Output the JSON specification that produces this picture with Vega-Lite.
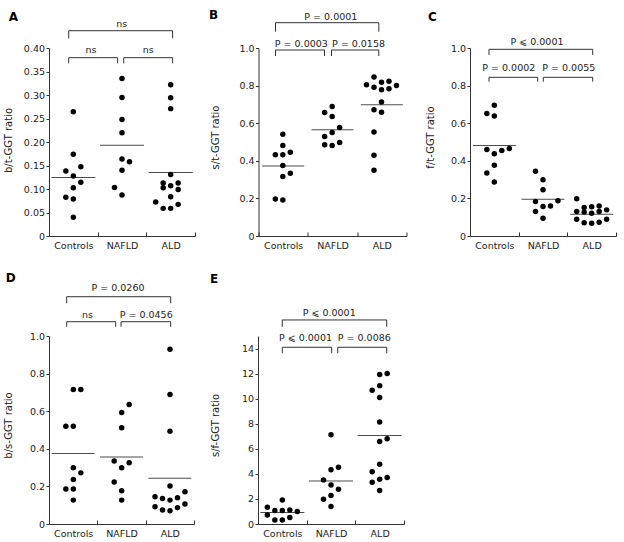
{
  "$schema": "https://vega.github.io/schema/vega-lite/v6.json",
  "padding": {"left": 3, "top": 9, "right": 0, "bottom": 0},
  "background": "white",
  "config": {
    "font": "DejaVu Sans",
    "view": {"stroke": null},
    "axis": {"grid": false, "domainColor": "#333", "tickColor": "#333", "labelColor": "#222", "titleColor": "#222", "labelFontSize": 9.5, "titleFontSize": 10, "titleFontWeight": "normal", "labelFont": "DejaVu Sans", "titleFont": "DejaVu Sans", "labelOverlap": false},
    "axisX": {"tickSize": -4, "labelPadding": 8},
    "axisY": {"tickSize": 3, "labelPadding": 1.5, "tickCount": 20},
    "text": {"font": "DejaVu Sans"}
  },
  "datasets": {
    "points": [
      {"panel": "A", "group": "Controls", "slot": 0, "value": 0.2645},
      {"panel": "A", "group": "Controls", "slot": 0, "value": 0.1738},
      {"panel": "A", "group": "Controls", "slot": -1, "value": 0.1383},
      {"panel": "A", "group": "Controls", "slot": 1, "value": 0.1474},
      {"panel": "A", "group": "Controls", "slot": 0, "value": 0.1277},
      {"panel": "A", "group": "Controls", "slot": 1, "value": 0.1143},
      {"panel": "A", "group": "Controls", "slot": 0, "value": 0.1028},
      {"panel": "A", "group": "Controls", "slot": -1, "value": 0.0823},
      {"panel": "A", "group": "Controls", "slot": 0, "value": 0.0787},
      {"panel": "A", "group": "Controls", "slot": 0, "value": 0.0398},
      {"panel": "A", "group": "NAFLD", "slot": 0, "value": 0.335},
      {"panel": "A", "group": "NAFLD", "slot": 0, "value": 0.2946},
      {"panel": "A", "group": "NAFLD", "slot": 0, "value": 0.248},
      {"panel": "A", "group": "NAFLD", "slot": 0, "value": 0.2195},
      {"panel": "A", "group": "NAFLD", "slot": 0, "value": 0.164},
      {"panel": "A", "group": "NAFLD", "slot": 1, "value": 0.158},
      {"panel": "A", "group": "NAFLD", "slot": 0, "value": 0.14},
      {"panel": "A", "group": "NAFLD", "slot": -1, "value": 0.103},
      {"panel": "A", "group": "NAFLD", "slot": 0, "value": 0.087},
      {"panel": "A", "group": "ALD", "slot": 0, "value": 0.322},
      {"panel": "A", "group": "ALD", "slot": 0, "value": 0.294},
      {"panel": "A", "group": "ALD", "slot": 0, "value": 0.271},
      {"panel": "A", "group": "ALD", "slot": 0, "value": 0.131},
      {"panel": "A", "group": "ALD", "slot": -1, "value": 0.113},
      {"panel": "A", "group": "ALD", "slot": 1, "value": 0.113},
      {"panel": "A", "group": "ALD", "slot": -1, "value": 0.1026},
      {"panel": "A", "group": "ALD", "slot": 0, "value": 0.107},
      {"panel": "A", "group": "ALD", "slot": 1, "value": 0.099},
      {"panel": "A", "group": "ALD", "slot": 0, "value": 0.0835},
      {"panel": "A", "group": "ALD", "slot": -2, "value": 0.0722},
      {"panel": "A", "group": "ALD", "slot": 1, "value": 0.0673},
      {"panel": "A", "group": "ALD", "slot": -1, "value": 0.0588},
      {"panel": "A", "group": "ALD", "slot": 0, "value": 0.0588},

      {"panel": "B", "group": "Controls", "slot": 0, "value": 0.5417},
      {"panel": "B", "group": "Controls", "slot": 0, "value": 0.481},
      {"panel": "B", "group": "Controls", "slot": -1, "value": 0.4316},
      {"panel": "B", "group": "Controls", "slot": 0, "value": 0.4316},
      {"panel": "B", "group": "Controls", "slot": 1, "value": 0.446},
      {"panel": "B", "group": "Controls", "slot": 0, "value": 0.3747},
      {"panel": "B", "group": "Controls", "slot": 1, "value": 0.334},
      {"panel": "B", "group": "Controls", "slot": 0, "value": 0.316},
      {"panel": "B", "group": "Controls", "slot": -1, "value": 0.197},
      {"panel": "B", "group": "Controls", "slot": 0, "value": 0.192},
      {"panel": "B", "group": "NAFLD", "slot": 0, "value": 0.689},
      {"panel": "B", "group": "NAFLD", "slot": -1, "value": 0.657},
      {"panel": "B", "group": "NAFLD", "slot": 0, "value": 0.636},
      {"panel": "B", "group": "NAFLD", "slot": 1, "value": 0.577},
      {"panel": "B", "group": "NAFLD", "slot": -1, "value": 0.529},
      {"panel": "B", "group": "NAFLD", "slot": 0, "value": 0.55},
      {"panel": "B", "group": "NAFLD", "slot": -1, "value": 0.485},
      {"panel": "B", "group": "NAFLD", "slot": 0, "value": 0.481},
      {"panel": "B", "group": "NAFLD", "slot": 1, "value": 0.497},
      {"panel": "B", "group": "ALD", "slot": -1, "value": 0.846},
      {"panel": "B", "group": "ALD", "slot": -2, "value": 0.805},
      {"panel": "B", "group": "ALD", "slot": -1, "value": 0.791},
      {"panel": "B", "group": "ALD", "slot": 0, "value": 0.818},
      {"panel": "B", "group": "ALD", "slot": 1, "value": 0.823},
      {"panel": "B", "group": "ALD", "slot": 2, "value": 0.8},
      {"panel": "B", "group": "ALD", "slot": 0, "value": 0.778},
      {"panel": "B", "group": "ALD", "slot": 1, "value": 0.783},
      {"panel": "B", "group": "ALD", "slot": 0, "value": 0.713},
      {"panel": "B", "group": "ALD", "slot": -1, "value": 0.672},
      {"panel": "B", "group": "ALD", "slot": 0, "value": 0.658},
      {"panel": "B", "group": "ALD", "slot": -1, "value": 0.553},
      {"panel": "B", "group": "ALD", "slot": -1, "value": 0.43},
      {"panel": "B", "group": "ALD", "slot": -1, "value": 0.35},

      {"panel": "C", "group": "Controls", "slot": 0, "value": 0.695},
      {"panel": "C", "group": "Controls", "slot": -1, "value": 0.652},
      {"panel": "C", "group": "Controls", "slot": 0, "value": 0.638},
      {"panel": "C", "group": "Controls", "slot": -1, "value": 0.46},
      {"panel": "C", "group": "Controls", "slot": 1, "value": 0.4545},
      {"panel": "C", "group": "Controls", "slot": 2, "value": 0.465},
      {"panel": "C", "group": "Controls", "slot": 0, "value": 0.437},
      {"panel": "C", "group": "Controls", "slot": 0, "value": 0.376},
      {"panel": "C", "group": "Controls", "slot": -1, "value": 0.335},
      {"panel": "C", "group": "Controls", "slot": 0, "value": 0.287},
      {"panel": "C", "group": "NAFLD", "slot": -1, "value": 0.344},
      {"panel": "C", "group": "NAFLD", "slot": 0, "value": 0.2995},
      {"panel": "C", "group": "NAFLD", "slot": 0, "value": 0.246},
      {"panel": "C", "group": "NAFLD", "slot": -1, "value": 0.183},
      {"panel": "C", "group": "NAFLD", "slot": 2, "value": 0.187},
      {"panel": "C", "group": "NAFLD", "slot": -1, "value": 0.13},
      {"panel": "C", "group": "NAFLD", "slot": 0, "value": 0.157},
      {"panel": "C", "group": "NAFLD", "slot": 1, "value": 0.16},
      {"panel": "C", "group": "NAFLD", "slot": 0, "value": 0.0945},
      {"panel": "C", "group": "ALD", "slot": -2, "value": 0.198},
      {"panel": "C", "group": "ALD", "slot": -1, "value": 0.151},
      {"panel": "C", "group": "ALD", "slot": 0, "value": 0.155},
      {"panel": "C", "group": "ALD", "slot": 1, "value": 0.16},
      {"panel": "C", "group": "ALD", "slot": -2, "value": 0.13},
      {"panel": "C", "group": "ALD", "slot": -1, "value": 0.127},
      {"panel": "C", "group": "ALD", "slot": 0, "value": 0.121},
      {"panel": "C", "group": "ALD", "slot": 1, "value": 0.13},
      {"panel": "C", "group": "ALD", "slot": 2, "value": 0.139},
      {"panel": "C", "group": "ALD", "slot": -2, "value": 0.089},
      {"panel": "C", "group": "ALD", "slot": -1, "value": 0.071},
      {"panel": "C", "group": "ALD", "slot": 0, "value": 0.068},
      {"panel": "C", "group": "ALD", "slot": 1, "value": 0.073},
      {"panel": "C", "group": "ALD", "slot": 2, "value": 0.089},

      {"panel": "D", "group": "Controls", "slot": 0, "value": 0.715},
      {"panel": "D", "group": "Controls", "slot": 1, "value": 0.715},
      {"panel": "D", "group": "Controls", "slot": -1, "value": 0.52},
      {"panel": "D", "group": "Controls", "slot": 0, "value": 0.52},
      {"panel": "D", "group": "Controls", "slot": 0, "value": 0.299},
      {"panel": "D", "group": "Controls", "slot": 1, "value": 0.272},
      {"panel": "D", "group": "Controls", "slot": 0, "value": 0.237},
      {"panel": "D", "group": "Controls", "slot": -1, "value": 0.186},
      {"panel": "D", "group": "Controls", "slot": 0, "value": 0.186},
      {"panel": "D", "group": "Controls", "slot": 0, "value": 0.127},
      {"panel": "D", "group": "NAFLD", "slot": 1, "value": 0.636},
      {"panel": "D", "group": "NAFLD", "slot": 0, "value": 0.593},
      {"panel": "D", "group": "NAFLD", "slot": 0, "value": 0.512},
      {"panel": "D", "group": "NAFLD", "slot": -1, "value": 0.3346},
      {"panel": "D", "group": "NAFLD", "slot": 1, "value": 0.326},
      {"panel": "D", "group": "NAFLD", "slot": 0, "value": 0.299},
      {"panel": "D", "group": "NAFLD", "slot": -1, "value": 0.223},
      {"panel": "D", "group": "NAFLD", "slot": 0, "value": 0.177},
      {"panel": "D", "group": "NAFLD", "slot": 0, "value": 0.127},
      {"panel": "D", "group": "ALD", "slot": 0, "value": 0.929},
      {"panel": "D", "group": "ALD", "slot": 0, "value": 0.689},
      {"panel": "D", "group": "ALD", "slot": 0, "value": 0.494},
      {"panel": "D", "group": "ALD", "slot": 0, "value": 0.202},
      {"panel": "D", "group": "ALD", "slot": -2, "value": 0.145},
      {"panel": "D", "group": "ALD", "slot": -1, "value": 0.136},
      {"panel": "D", "group": "ALD", "slot": 0, "value": 0.127},
      {"panel": "D", "group": "ALD", "slot": 1, "value": 0.14},
      {"panel": "D", "group": "ALD", "slot": 2, "value": 0.172},
      {"panel": "D", "group": "ALD", "slot": -2, "value": 0.092},
      {"panel": "D", "group": "ALD", "slot": -1, "value": 0.0743},
      {"panel": "D", "group": "ALD", "slot": 0, "value": 0.071},
      {"panel": "D", "group": "ALD", "slot": 1, "value": 0.0867},
      {"panel": "D", "group": "ALD", "slot": 2, "value": 0.106},

      {"panel": "E", "group": "Controls", "slot": 0, "value": 1.92},
      {"panel": "E", "group": "Controls", "slot": -2, "value": 1.33},
      {"panel": "E", "group": "Controls", "slot": -1, "value": 1.07},
      {"panel": "E", "group": "Controls", "slot": 0, "value": 1.07},
      {"panel": "E", "group": "Controls", "slot": 1, "value": 1.12},
      {"panel": "E", "group": "Controls", "slot": 2, "value": 0.99},
      {"panel": "E", "group": "Controls", "slot": -2, "value": 0.72},
      {"panel": "E", "group": "Controls", "slot": 1, "value": 0.51},
      {"panel": "E", "group": "Controls", "slot": -1, "value": 0.32},
      {"panel": "E", "group": "Controls", "slot": 0, "value": 0.32},
      {"panel": "E", "group": "NAFLD", "slot": 0, "value": 7.12},
      {"panel": "E", "group": "NAFLD", "slot": 0, "value": 4.32},
      {"panel": "E", "group": "NAFLD", "slot": 1, "value": 4.53},
      {"panel": "E", "group": "NAFLD", "slot": -1, "value": 3.52},
      {"panel": "E", "group": "NAFLD", "slot": 0, "value": 3.12},
      {"panel": "E", "group": "NAFLD", "slot": 1, "value": 2.77},
      {"panel": "E", "group": "NAFLD", "slot": -1, "value": 1.97},
      {"panel": "E", "group": "NAFLD", "slot": 0, "value": 2.27},
      {"panel": "E", "group": "NAFLD", "slot": 0, "value": 1.39},
      {"panel": "E", "group": "ALD", "slot": 0, "value": 11.92},
      {"panel": "E", "group": "ALD", "slot": 1, "value": 12.0},
      {"panel": "E", "group": "ALD", "slot": -1, "value": 10.67},
      {"panel": "E", "group": "ALD", "slot": 0, "value": 11.04},
      {"panel": "E", "group": "ALD", "slot": 0, "value": 10.1},
      {"panel": "E", "group": "ALD", "slot": 0, "value": 8.13},
      {"panel": "E", "group": "ALD", "slot": 0, "value": 6.59},
      {"panel": "E", "group": "ALD", "slot": 1, "value": 6.8},
      {"panel": "E", "group": "ALD", "slot": 0, "value": 4.77},
      {"panel": "E", "group": "ALD", "slot": -1, "value": 4.16},
      {"panel": "E", "group": "ALD", "slot": 0, "value": 3.57},
      {"panel": "E", "group": "ALD", "slot": 1, "value": 3.71},
      {"panel": "E", "group": "ALD", "slot": -1, "value": 3.33},
      {"panel": "E", "group": "ALD", "slot": 0, "value": 2.67}
    ],
    "medians": [
      {"panel": "A", "group": "Controls", "value": 0.1247},
      {"panel": "A", "group": "NAFLD", "value": 0.1933},
      {"panel": "A", "group": "ALD", "value": 0.1353},
      {"panel": "B", "group": "Controls", "value": 0.373},
      {"panel": "B", "group": "NAFLD", "value": 0.565},
      {"panel": "B", "group": "ALD", "value": 0.698},
      {"panel": "C", "group": "Controls", "value": 0.481},
      {"panel": "C", "group": "NAFLD", "value": 0.196},
      {"panel": "C", "group": "ALD", "value": 0.116},
      {"panel": "D", "group": "Controls", "value": 0.375},
      {"panel": "D", "group": "NAFLD", "value": 0.357},
      {"panel": "D", "group": "ALD", "value": 0.243},
      {"panel": "E", "group": "Controls", "value": 0.91},
      {"panel": "E", "group": "NAFLD", "value": 3.44},
      {"panel": "E", "group": "ALD", "value": 7.07}
    ],
    "brackets": [
      {"panel": "A", "xa": 0.405, "xb": 2.54, "ytop": 0.4368, "ybot": 0.4206},
      {"panel": "A", "xa": 0.405, "xb": 1.41, "ytop": 0.3794, "ybot": 0.3674},
      {"panel": "A", "xa": 1.535, "xb": 2.54, "ytop": 0.3794, "ybot": 0.3674},
      {"panel": "B", "xa": 0.345, "xb": 2.439, "ytop": 1.1346, "ybot": 1.0867},
      {"panel": "B", "xa": 0.345, "xb": 1.338, "ytop": 0.9894, "ybot": 0.9574},
      {"panel": "B", "xa": 1.48, "xb": 2.439, "ytop": 0.9894, "ybot": 0.9574},
      {"panel": "C", "xa": 0.39, "xb": 2.521, "ytop": 0.993, "ybot": 0.963},
      {"panel": "C", "xa": 0.39, "xb": 1.391, "ytop": 0.844, "ybot": 0.8207},
      {"panel": "C", "xa": 1.506, "xb": 2.521, "ytop": 0.844, "ybot": 0.8207},
      {"panel": "D", "xa": 0.366, "xb": 2.518, "ytop": 1.209, "ybot": 1.174},
      {"panel": "D", "xa": 0.366, "xb": 1.38, "ytop": 1.076, "ybot": 1.049},
      {"panel": "D", "xa": 1.49, "xb": 2.518, "ytop": 1.076, "ybot": 1.049},
      {"panel": "E", "xa": 0.499, "xb": 2.645, "ytop": 16.28, "ybot": 15.74},
      {"panel": "E", "xa": 0.499, "xb": 1.514, "ytop": 14.1, "ybot": 13.62},
      {"panel": "E", "xa": 1.638, "xb": 2.645, "ytop": 14.1, "ybot": 13.62}
    ],
    "notes": [
      {"panel": "A", "kind": "p", "text": "ns", "x": 1.494, "y": 0.4453},
      {"panel": "A", "kind": "p", "text": "ns", "x": 0.863, "y": 0.3887},
      {"panel": "A", "kind": "p", "text": "ns", "x": 2.04, "y": 0.3887},
      {"panel": "A", "kind": "letter", "text": "A", "x": -0.734, "y": 0.458},
      {"panel": "B", "kind": "p", "text": "P = 0.0001", "x": 1.466, "y": 1.149},
      {"panel": "B", "kind": "p", "text": "P = 0.0003", "x": 0.868, "y": 1.007},
      {"panel": "B", "kind": "p", "text": "P = 0.0158", "x": 2.027, "y": 1.007},
      {"panel": "B", "kind": "letter", "text": "B", "x": -0.912, "y": 1.154},
      {"panel": "C", "kind": "p", "text": "P ⩽ 0.0001", "x": 1.377, "y": 1.016},
      {"panel": "C", "kind": "p", "text": "P = 0.0002", "x": 0.797, "y": 0.8777},
      {"panel": "C", "kind": "p", "text": "P = 0.0055", "x": 2.03, "y": 0.8777},
      {"panel": "C", "kind": "letter", "text": "C", "x": -0.771, "y": 1.145},
      {"panel": "D", "kind": "p", "text": "P = 0.0260", "x": 1.428, "y": 1.241},
      {"panel": "D", "kind": "p", "text": "ns", "x": 0.797, "y": 1.097},
      {"panel": "D", "kind": "p", "text": "P = 0.0456", "x": 2.011, "y": 1.097},
      {"panel": "D", "kind": "letter", "text": "D", "x": -0.79, "y": 1.289},
      {"panel": "E", "kind": "p", "text": "P ⩽ 0.0001", "x": 1.463, "y": 16.62},
      {"panel": "E", "kind": "p", "text": "P ⩽ 0.0001", "x": 0.976, "y": 14.63},
      {"panel": "E", "kind": "p", "text": "P = 0.0086", "x": 2.184, "y": 14.63},
      {"panel": "E", "kind": "letter", "text": "E", "x": -0.904, "y": 19.25}
    ]
  },
  "bounds": "flush",
  "spacing": 288,
  "vconcat": [
    {
      "bounds": "flush",
      "spacing": 63.5,
      "hconcat": [
        {
          "width": 146, "height": 188,
          "resolve": {"scale": {"x": "independent"}},
          "layer": [
            {"data": {"name": "points"}, "transform": [{"filter": "datum.panel == 'A'"}],
             "mark": {"type": "circle", "size": 30, "color": "black", "opacity": 1},
             "encoding": {
               "x": {"field": "group", "type": "nominal", "sort": ["Controls", "NAFLD", "ALD"], "scale": {"type": "band", "paddingInner": 0, "paddingOuter": 0}, "axis": {"title": null, "tickBand": "extent", "labelAngle": 0, "labelOverlap": false}},
               "xOffset": {"field": "slot", "type": "quantitative", "scale": {"domain": [-3.25, 3.25]}},
               "y": {"field": "value", "type": "quantitative", "title": "b/t-GGT ratio", "scale": {"domain": [0, 0.4], "nice": false}, "axis": {"values": [0, 0.05, 0.1, 0.15, 0.2, 0.25, 0.3, 0.35, 0.4], "tickCount": 20, "labelOverlap": false, "labelExpr": "datum.value == 0 ? '0' : format(datum.value, '.2f')", "titleX": -35.7, "titleY": 92}}
             }},
            {"data": {"name": "medians"}, "transform": [{"filter": "datum.panel == 'A'"}],
             "mark": {"type": "tick", "size": 44, "thickness": 1, "color": "black"},
             "encoding": {
               "x": {"field": "group", "type": "nominal", "sort": ["Controls", "NAFLD", "ALD"], "scale": {"type": "band", "paddingInner": 0, "paddingOuter": 0}, "axis": null},
               "y": {"field": "value", "type": "quantitative", "title": "b/t-GGT ratio", "scale": {"domain": [0, 0.4], "nice": false}}
             }},
            {"data": {"name": "brackets"}, "transform": [{"filter": "datum.panel == 'A'"}],
             "mark": {"type": "rule", "color": "#333", "strokeWidth": 1},
             "encoding": {
               "x": {"field": "xa", "type": "quantitative", "scale": {"domain": [0, 3]}, "axis": null},
               "x2": {"field": "xb"},
               "y": {"field": "ytop", "type": "quantitative", "title": "b/t-GGT ratio", "scale": {"domain": [0, 0.4], "nice": false}}
             }},
            {"data": {"name": "brackets"}, "transform": [{"filter": "datum.panel == 'A'"}],
             "mark": {"type": "rule", "color": "#333", "strokeWidth": 1},
             "encoding": {
               "x": {"field": "xa", "type": "quantitative", "scale": {"domain": [0, 3]}, "axis": null},
               "y": {"field": "ybot", "type": "quantitative", "title": "b/t-GGT ratio", "scale": {"domain": [0, 0.4], "nice": false}},
               "y2": {"field": "ytop"}
             }},
            {"data": {"name": "brackets"}, "transform": [{"filter": "datum.panel == 'A'"}],
             "mark": {"type": "rule", "color": "#333", "strokeWidth": 1},
             "encoding": {
               "x": {"field": "xb", "type": "quantitative", "scale": {"domain": [0, 3]}, "axis": null},
               "y": {"field": "ybot", "type": "quantitative", "title": "b/t-GGT ratio", "scale": {"domain": [0, 0.4], "nice": false}},
               "y2": {"field": "ytop"}
             }},
            {"data": {"name": "notes"}, "transform": [{"filter": "datum.panel == 'A' && datum.kind == 'p'"}],
             "mark": {"type": "text", "fontSize": 9.5, "baseline": "alphabetic", "align": "center", "color": "#222"},
             "encoding": {
               "x": {"field": "x", "type": "quantitative", "scale": {"domain": [0, 3]}, "axis": null},
               "y": {"field": "y", "type": "quantitative", "title": "b/t-GGT ratio", "scale": {"domain": [0, 0.4], "nice": false}},
               "text": {"field": "text"}
             }},
            {"data": {"name": "notes"}, "transform": [{"filter": "datum.panel == 'A' && datum.kind == 'letter'"}],
             "mark": {"type": "text", "fontSize": 12, "fontWeight": "bold", "baseline": "alphabetic", "align": "center", "color": "black"},
             "encoding": {
               "x": {"field": "x", "type": "quantitative", "scale": {"domain": [0, 3]}, "axis": null},
               "y": {"field": "y", "type": "quantitative", "title": "b/t-GGT ratio", "scale": {"domain": [0, 0.4], "nice": false}},
               "text": {"field": "text"}
             }}
          ]
        },
        {
          "width": 148, "height": 188,
          "resolve": {"scale": {"x": "independent"}},
          "layer": [
            {"data": {"name": "points"}, "transform": [{"filter": "datum.panel == 'B'"}],
             "mark": {"type": "circle", "size": 30, "color": "black", "opacity": 1},
             "encoding": {
               "x": {"field": "group", "type": "nominal", "sort": ["Controls", "NAFLD", "ALD"], "scale": {"type": "band", "paddingInner": 0, "paddingOuter": 0}, "axis": {"title": null, "tickBand": "extent", "labelAngle": 0, "labelOverlap": false}},
               "xOffset": {"field": "slot", "type": "quantitative", "scale": {"domain": [-3.25, 3.25]}},
               "y": {"field": "value", "type": "quantitative", "title": "s/t-GGT ratio", "scale": {"domain": [0, 1], "nice": false}, "axis": {"values": [0, 0.2, 0.4, 0.6, 0.8, 1.0], "tickCount": 20, "labelOverlap": false, "labelExpr": "datum.value == 0 ? '0' : format(datum.value, '.1f')", "titleX": -38.5, "titleY": 89}}
             }},
            {"data": {"name": "medians"}, "transform": [{"filter": "datum.panel == 'B'"}],
             "mark": {"type": "tick", "size": 42, "thickness": 1, "color": "black"},
             "encoding": {
               "x": {"field": "group", "type": "nominal", "sort": ["Controls", "NAFLD", "ALD"], "scale": {"type": "band", "paddingInner": 0, "paddingOuter": 0}, "axis": null},
               "y": {"field": "value", "type": "quantitative", "title": "s/t-GGT ratio", "scale": {"domain": [0, 1], "nice": false}}
             }},
            {"data": {"name": "brackets"}, "transform": [{"filter": "datum.panel == 'B'"}],
             "mark": {"type": "rule", "color": "#333", "strokeWidth": 1},
             "encoding": {
               "x": {"field": "xa", "type": "quantitative", "scale": {"domain": [0, 3]}, "axis": null},
               "x2": {"field": "xb"},
               "y": {"field": "ytop", "type": "quantitative", "title": "s/t-GGT ratio", "scale": {"domain": [0, 1], "nice": false}}
             }},
            {"data": {"name": "brackets"}, "transform": [{"filter": "datum.panel == 'B'"}],
             "mark": {"type": "rule", "color": "#333", "strokeWidth": 1},
             "encoding": {
               "x": {"field": "xa", "type": "quantitative", "scale": {"domain": [0, 3]}, "axis": null},
               "y": {"field": "ybot", "type": "quantitative", "title": "s/t-GGT ratio", "scale": {"domain": [0, 1], "nice": false}},
               "y2": {"field": "ytop"}
             }},
            {"data": {"name": "brackets"}, "transform": [{"filter": "datum.panel == 'B'"}],
             "mark": {"type": "rule", "color": "#333", "strokeWidth": 1},
             "encoding": {
               "x": {"field": "xb", "type": "quantitative", "scale": {"domain": [0, 3]}, "axis": null},
               "y": {"field": "ybot", "type": "quantitative", "title": "s/t-GGT ratio", "scale": {"domain": [0, 1], "nice": false}},
               "y2": {"field": "ytop"}
             }},
            {"data": {"name": "notes"}, "transform": [{"filter": "datum.panel == 'B' && datum.kind == 'p'"}],
             "mark": {"type": "text", "fontSize": 9.5, "baseline": "alphabetic", "align": "center", "color": "#222"},
             "encoding": {
               "x": {"field": "x", "type": "quantitative", "scale": {"domain": [0, 3]}, "axis": null},
               "y": {"field": "y", "type": "quantitative", "title": "s/t-GGT ratio", "scale": {"domain": [0, 1], "nice": false}},
               "text": {"field": "text"}
             }},
            {"data": {"name": "notes"}, "transform": [{"filter": "datum.panel == 'B' && datum.kind == 'letter'"}],
             "mark": {"type": "text", "fontSize": 12, "fontWeight": "bold", "baseline": "alphabetic", "align": "center", "color": "black"},
             "encoding": {
               "x": {"field": "x", "type": "quantitative", "scale": {"domain": [0, 3]}, "axis": null},
               "y": {"field": "y", "type": "quantitative", "title": "s/t-GGT ratio", "scale": {"domain": [0, 1], "nice": false}},
               "text": {"field": "text"}
             }}
          ]
        },
        {
          "width": 146, "height": 188,
          "resolve": {"scale": {"x": "independent"}},
          "layer": [
            {"data": {"name": "points"}, "transform": [{"filter": "datum.panel == 'C'"}],
             "mark": {"type": "circle", "size": 30, "color": "black", "opacity": 1},
             "encoding": {
               "x": {"field": "group", "type": "nominal", "sort": ["Controls", "NAFLD", "ALD"], "scale": {"type": "band", "paddingInner": 0, "paddingOuter": 0}, "axis": {"title": null, "tickBand": "extent", "labelAngle": 0, "labelOverlap": false}},
               "xOffset": {"field": "slot", "type": "quantitative", "scale": {"domain": [-3.25, 3.25]}},
               "y": {"field": "value", "type": "quantitative", "title": "f/t-GGT ratio", "scale": {"domain": [0, 1], "nice": false}, "axis": {"values": [0, 0.2, 0.4, 0.6, 0.8, 1.0], "tickCount": 20, "labelOverlap": false, "labelExpr": "datum.value == 0 ? '0' : format(datum.value, '.1f')", "titleX": -34.5, "titleY": 89}}
             }},
            {"data": {"name": "medians"}, "transform": [{"filter": "datum.panel == 'C'"}],
             "mark": {"type": "tick", "size": 43, "thickness": 1, "color": "black"},
             "encoding": {
               "x": {"field": "group", "type": "nominal", "sort": ["Controls", "NAFLD", "ALD"], "scale": {"type": "band", "paddingInner": 0, "paddingOuter": 0}, "axis": null},
               "y": {"field": "value", "type": "quantitative", "title": "f/t-GGT ratio", "scale": {"domain": [0, 1], "nice": false}}
             }},
            {"data": {"name": "brackets"}, "transform": [{"filter": "datum.panel == 'C'"}],
             "mark": {"type": "rule", "color": "#333", "strokeWidth": 1},
             "encoding": {
               "x": {"field": "xa", "type": "quantitative", "scale": {"domain": [0, 3]}, "axis": null},
               "x2": {"field": "xb"},
               "y": {"field": "ytop", "type": "quantitative", "title": "f/t-GGT ratio", "scale": {"domain": [0, 1], "nice": false}}
             }},
            {"data": {"name": "brackets"}, "transform": [{"filter": "datum.panel == 'C'"}],
             "mark": {"type": "rule", "color": "#333", "strokeWidth": 1},
             "encoding": {
               "x": {"field": "xa", "type": "quantitative", "scale": {"domain": [0, 3]}, "axis": null},
               "y": {"field": "ybot", "type": "quantitative", "title": "f/t-GGT ratio", "scale": {"domain": [0, 1], "nice": false}},
               "y2": {"field": "ytop"}
             }},
            {"data": {"name": "brackets"}, "transform": [{"filter": "datum.panel == 'C'"}],
             "mark": {"type": "rule", "color": "#333", "strokeWidth": 1},
             "encoding": {
               "x": {"field": "xb", "type": "quantitative", "scale": {"domain": [0, 3]}, "axis": null},
               "y": {"field": "ybot", "type": "quantitative", "title": "f/t-GGT ratio", "scale": {"domain": [0, 1], "nice": false}},
               "y2": {"field": "ytop"}
             }},
            {"data": {"name": "notes"}, "transform": [{"filter": "datum.panel == 'C' && datum.kind == 'p'"}],
             "mark": {"type": "text", "fontSize": 9.5, "baseline": "alphabetic", "align": "center", "color": "#222"},
             "encoding": {
               "x": {"field": "x", "type": "quantitative", "scale": {"domain": [0, 3]}, "axis": null},
               "y": {"field": "y", "type": "quantitative", "title": "f/t-GGT ratio", "scale": {"domain": [0, 1], "nice": false}},
               "text": {"field": "text"}
             }},
            {"data": {"name": "notes"}, "transform": [{"filter": "datum.panel == 'C' && datum.kind == 'letter'"}],
             "mark": {"type": "text", "fontSize": 12, "fontWeight": "bold", "baseline": "alphabetic", "align": "center", "color": "black"},
             "encoding": {
               "x": {"field": "x", "type": "quantitative", "scale": {"domain": [0, 3]}, "axis": null},
               "y": {"field": "y", "type": "quantitative", "title": "f/t-GGT ratio", "scale": {"domain": [0, 1], "nice": false}},
               "text": {"field": "text"}
             }}
          ]
        }
      ]
    },
    {
      "bounds": "flush",
      "spacing": 64,
      "hconcat": [
        {
          "width": 145, "height": 188,
          "resolve": {"scale": {"x": "independent"}},
          "layer": [
            {"data": {"name": "points"}, "transform": [{"filter": "datum.panel == 'D'"}],
             "mark": {"type": "circle", "size": 30, "color": "black", "opacity": 1},
             "encoding": {
               "x": {"field": "group", "type": "nominal", "sort": ["Controls", "NAFLD", "ALD"], "scale": {"type": "band", "paddingInner": 0, "paddingOuter": 0}, "axis": {"title": null, "tickBand": "extent", "labelAngle": 0, "labelOverlap": false}},
               "xOffset": {"field": "slot", "type": "quantitative", "scale": {"domain": [-3.25, 3.25]}},
               "y": {"field": "value", "type": "quantitative", "title": "b/s-GGT ratio", "scale": {"domain": [0, 1], "nice": false}, "axis": {"values": [0, 0.2, 0.4, 0.6, 0.8, 1.0], "tickCount": 20, "labelOverlap": false, "labelExpr": "datum.value == 0 ? '0' : format(datum.value, '.1f')", "titleX": -35.7, "titleY": 89}}
             }},
            {"data": {"name": "medians"}, "transform": [{"filter": "datum.panel == 'D'"}],
             "mark": {"type": "tick", "size": 43, "thickness": 1, "color": "black"},
             "encoding": {
               "x": {"field": "group", "type": "nominal", "sort": ["Controls", "NAFLD", "ALD"], "scale": {"type": "band", "paddingInner": 0, "paddingOuter": 0}, "axis": null},
               "y": {"field": "value", "type": "quantitative", "title": "b/s-GGT ratio", "scale": {"domain": [0, 1], "nice": false}}
             }},
            {"data": {"name": "brackets"}, "transform": [{"filter": "datum.panel == 'D'"}],
             "mark": {"type": "rule", "color": "#333", "strokeWidth": 1},
             "encoding": {
               "x": {"field": "xa", "type": "quantitative", "scale": {"domain": [0, 3]}, "axis": null},
               "x2": {"field": "xb"},
               "y": {"field": "ytop", "type": "quantitative", "title": "b/s-GGT ratio", "scale": {"domain": [0, 1], "nice": false}}
             }},
            {"data": {"name": "brackets"}, "transform": [{"filter": "datum.panel == 'D'"}],
             "mark": {"type": "rule", "color": "#333", "strokeWidth": 1},
             "encoding": {
               "x": {"field": "xa", "type": "quantitative", "scale": {"domain": [0, 3]}, "axis": null},
               "y": {"field": "ybot", "type": "quantitative", "title": "b/s-GGT ratio", "scale": {"domain": [0, 1], "nice": false}},
               "y2": {"field": "ytop"}
             }},
            {"data": {"name": "brackets"}, "transform": [{"filter": "datum.panel == 'D'"}],
             "mark": {"type": "rule", "color": "#333", "strokeWidth": 1},
             "encoding": {
               "x": {"field": "xb", "type": "quantitative", "scale": {"domain": [0, 3]}, "axis": null},
               "y": {"field": "ybot", "type": "quantitative", "title": "b/s-GGT ratio", "scale": {"domain": [0, 1], "nice": false}},
               "y2": {"field": "ytop"}
             }},
            {"data": {"name": "notes"}, "transform": [{"filter": "datum.panel == 'D' && datum.kind == 'p'"}],
             "mark": {"type": "text", "fontSize": 9.5, "baseline": "alphabetic", "align": "center", "color": "#222"},
             "encoding": {
               "x": {"field": "x", "type": "quantitative", "scale": {"domain": [0, 3]}, "axis": null},
               "y": {"field": "y", "type": "quantitative", "title": "b/s-GGT ratio", "scale": {"domain": [0, 1], "nice": false}},
               "text": {"field": "text"}
             }},
            {"data": {"name": "notes"}, "transform": [{"filter": "datum.panel == 'D' && datum.kind == 'letter'"}],
             "mark": {"type": "text", "fontSize": 12, "fontWeight": "bold", "baseline": "alphabetic", "align": "center", "color": "black"},
             "encoding": {
               "x": {"field": "x", "type": "quantitative", "scale": {"domain": [0, 3]}, "axis": null},
               "y": {"field": "y", "type": "quantitative", "title": "b/s-GGT ratio", "scale": {"domain": [0, 1], "nice": false}},
               "text": {"field": "text"}
             }}
          ]
        },
        {
          "width": 146, "height": 188,
          "resolve": {"scale": {"x": "independent"}},
          "layer": [
            {"data": {"name": "points"}, "transform": [{"filter": "datum.panel == 'E'"}],
             "mark": {"type": "circle", "size": 30, "color": "black", "opacity": 1},
             "encoding": {
               "x": {"field": "group", "type": "nominal", "sort": ["Controls", "NAFLD", "ALD"], "scale": {"type": "band", "paddingInner": 0, "paddingOuter": 0}, "axis": {"title": null, "tickBand": "extent", "labelAngle": 0, "labelOverlap": false}},
               "xOffset": {"field": "slot", "type": "quantitative", "scale": {"domain": [-3.25, 3.25]}},
               "y": {"field": "value", "type": "quantitative", "title": "s/f-GGT ratio", "scale": {"domain": [0, 15], "nice": false}, "axis": {"values": [0, 2, 4, 6, 8, 10, 12, 14], "tickCount": 20, "labelOverlap": false, "format": "d", "titleX": -37.5, "titleY": 89}}
             }},
            {"data": {"name": "medians"}, "transform": [{"filter": "datum.panel == 'E'"}],
             "mark": {"type": "tick", "size": 44, "thickness": 1, "color": "black"},
             "encoding": {
               "x": {"field": "group", "type": "nominal", "sort": ["Controls", "NAFLD", "ALD"], "scale": {"type": "band", "paddingInner": 0, "paddingOuter": 0}, "axis": null},
               "y": {"field": "value", "type": "quantitative", "title": "s/f-GGT ratio", "scale": {"domain": [0, 15], "nice": false}}
             }},
            {"data": {"name": "brackets"}, "transform": [{"filter": "datum.panel == 'E'"}],
             "mark": {"type": "rule", "color": "#333", "strokeWidth": 1},
             "encoding": {
               "x": {"field": "xa", "type": "quantitative", "scale": {"domain": [0, 3]}, "axis": null},
               "x2": {"field": "xb"},
               "y": {"field": "ytop", "type": "quantitative", "title": "s/f-GGT ratio", "scale": {"domain": [0, 15], "nice": false}}
             }},
            {"data": {"name": "brackets"}, "transform": [{"filter": "datum.panel == 'E'"}],
             "mark": {"type": "rule", "color": "#333", "strokeWidth": 1},
             "encoding": {
               "x": {"field": "xa", "type": "quantitative", "scale": {"domain": [0, 3]}, "axis": null},
               "y": {"field": "ybot", "type": "quantitative", "title": "s/f-GGT ratio", "scale": {"domain": [0, 15], "nice": false}},
               "y2": {"field": "ytop"}
             }},
            {"data": {"name": "brackets"}, "transform": [{"filter": "datum.panel == 'E'"}],
             "mark": {"type": "rule", "color": "#333", "strokeWidth": 1},
             "encoding": {
               "x": {"field": "xb", "type": "quantitative", "scale": {"domain": [0, 3]}, "axis": null},
               "y": {"field": "ybot", "type": "quantitative", "title": "s/f-GGT ratio", "scale": {"domain": [0, 15], "nice": false}},
               "y2": {"field": "ytop"}
             }},
            {"data": {"name": "notes"}, "transform": [{"filter": "datum.panel == 'E' && datum.kind == 'p'"}],
             "mark": {"type": "text", "fontSize": 9.5, "baseline": "alphabetic", "align": "center", "color": "#222"},
             "encoding": {
               "x": {"field": "x", "type": "quantitative", "scale": {"domain": [0, 3]}, "axis": null},
               "y": {"field": "y", "type": "quantitative", "title": "s/f-GGT ratio", "scale": {"domain": [0, 15], "nice": false}},
               "text": {"field": "text"}
             }},
            {"data": {"name": "notes"}, "transform": [{"filter": "datum.panel == 'E' && datum.kind == 'letter'"}],
             "mark": {"type": "text", "fontSize": 12, "fontWeight": "bold", "baseline": "alphabetic", "align": "center", "color": "black"},
             "encoding": {
               "x": {"field": "x", "type": "quantitative", "scale": {"domain": [0, 3]}, "axis": null},
               "y": {"field": "y", "type": "quantitative", "title": "s/f-GGT ratio", "scale": {"domain": [0, 15], "nice": false}},
               "text": {"field": "text"}
             }}
          ]
        }
      ]
    }
  ]
}
